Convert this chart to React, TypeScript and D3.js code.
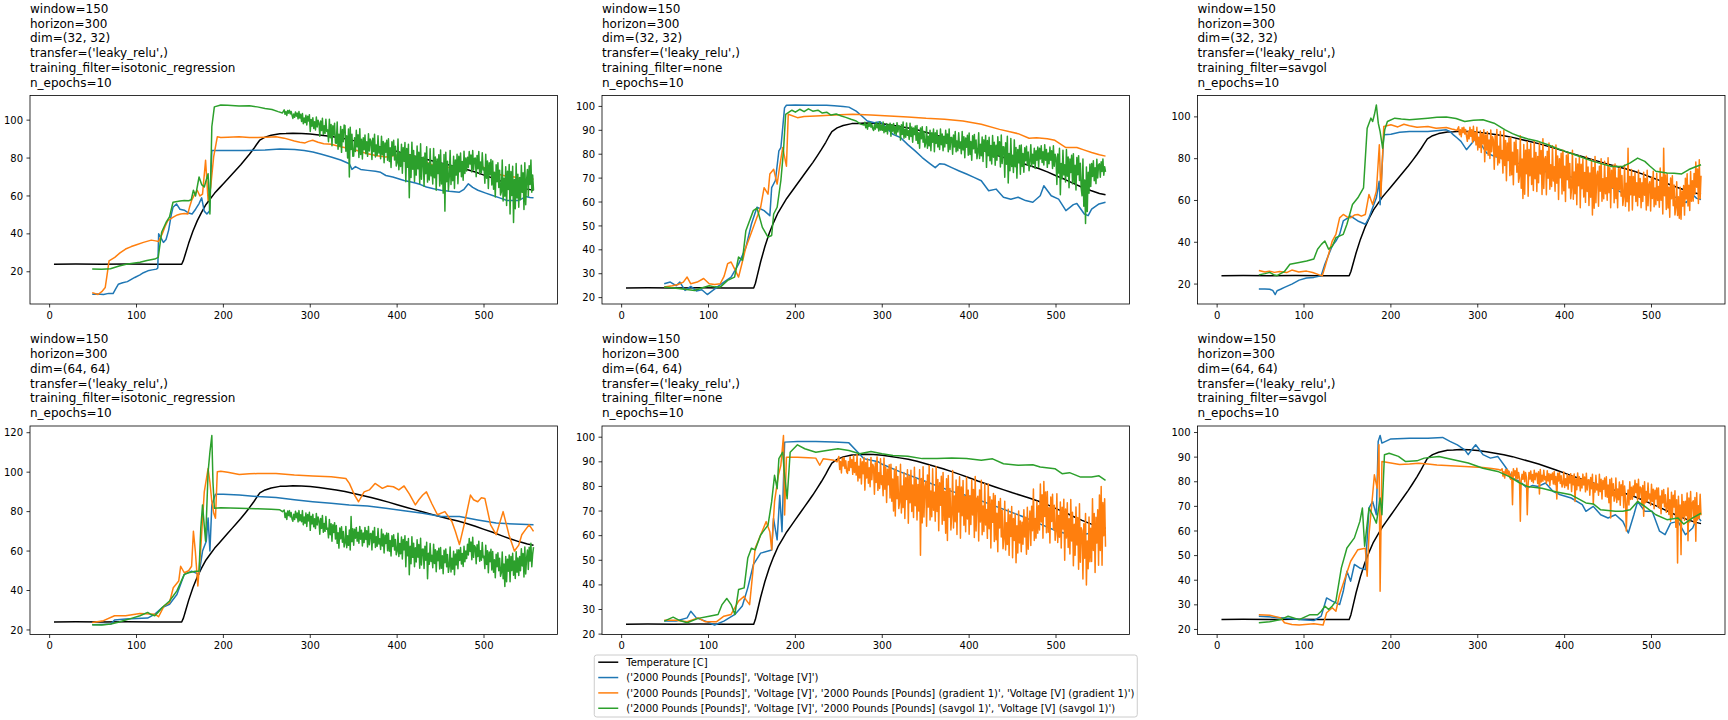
import React from "react";
import * as d3 from "d3";

type Pt = [number, number];

const W = 1728;
const H = 720;
const FONT = "'DejaVu Sans', sans-serif";

const COLOR_TEMP = "#000000";
const COLOR_BLUE = "#1f77b4";
const COLOR_ORANGE = "#ff7f0e";
const COLOR_GREEN = "#2ca02c";

// title parameters
const WINDOW = 150;
const HORIZON = 300;
const N_EPOCHS = 10;
const TRANSFER = "('leaky_relu',)";
const DIMS = ["(32, 32)", "(64, 64)"];
const FILTERS = ["isotonic_regression", "none", "savgol"];

const X_TICKS = [0, 100, 200, 300, 400, 500];
const Y_TICKS_P1 = [20, 40, 60, 80, 100];
const Y_TICKS_P2 = [20, 30, 40, 50, 60, 70, 80, 90, 100];
const Y_TICKS_P3 = [20, 40, 60, 80, 100];
const Y_TICKS_P4 = [20, 40, 60, 80, 100, 120];
const Y_TICKS_P5 = [20, 30, 40, 50, 60, 70, 80, 90, 100];
const Y_TICKS_P6 = [20, 30, 40, 50, 60, 70, 80, 90, 100];

const LEGEND_LABELS = [
  "Temperature [C]",
  "('2000 Pounds [Pounds]', 'Voltage [V]')",
  "('2000 Pounds [Pounds]', 'Voltage [V]', '2000 Pounds [Pounds] (gradient 1)', 'Voltage [V] (gradient 1)')",
  "('2000 Pounds [Pounds]', 'Voltage [V]', '2000 Pounds [Pounds] (savgol 1)', 'Voltage [V] (savgol 1)')",
];

// noisy stretches are sampled every NOISE_STEP x-units
const NOISE_STEP = 1;

const TEMPERATURE: Pt[] = [
  [5, 24], [30, 24.1], [60, 24], [90, 24.1], [120, 24], [152, 24], [154, 26], [156, 29], [160, 35],
  [165, 41.5], [170, 47], [175, 51.5], [180, 55.5], [185, 58.5], [190, 61.5], [195, 64], [200, 66.5],
  [205, 69], [210, 71.5], [215, 74], [220, 76.5], [225, 79.2], [230, 82], [235, 85], [238, 87],
  [242, 89.5], [248, 91], [255, 92], [265, 92.8], [272, 92.9], [280, 93.1], [290, 93], [300, 92.7],
  [310, 92.2], [320, 91.6], [330, 91], [340, 90.2], [350, 89.2], [360, 88.2], [370, 87.2], [380, 86],
  [390, 84.8], [400, 83.5], [410, 82.2], [420, 81], [430, 79.8], [440, 78.6], [450, 77.4], [460, 76.3],
  [470, 75.2], [480, 74], [490, 72.6], [500, 71], [510, 69.5], [520, 67.8], [530, 66.2], [540, 64.8],
  [550, 63.6], [557, 63],
];

// ---- panel 1: dim 32, isotonic_regression ----
const P1_BLUE: Pt[] = [
  [49, 8.1], [55, 8.3], [62, 8], [68, 8.6], [73, 8.5], [76, 11], [79, 13.4], [84, 14.2], [89.5, 14.8],
  [94, 16], [98, 17], [104, 18.4], [108, 19.5], [113, 20.5], [118, 21], [123, 21.4], [124.5, 22],
  [125.5, 40], [128, 38], [131, 35.5], [134, 37], [137, 42], [140, 50], [142, 54], [146, 55.8],
  [150, 53], [155, 52.5], [160, 51], [164, 50.5], [168, 53], [172, 56], [175, 59], [178, 52],
  [181, 50.5], [184, 52], [186.7, 84], [195, 84], [210, 84], [225, 84], [248, 84.2], [265, 84.8],
  [282, 84.5], [293, 84], [303, 83.2], [313, 82], [324, 80.6], [335, 79], [345, 77], [348, 74],
  [352, 75.5], [358, 74], [366, 73.5], [375, 73], [381, 72.5], [387, 70.8], [395, 70], [408, 68.2],
  [415, 67.5], [421, 66.8], [427, 66], [433.7, 64.7], [442, 63.8], [450.6, 63], [460, 62.5],
  [471.7, 62], [477, 63.5], [482, 66.4], [487, 64.5], [493, 63], [502, 61.5], [510, 60.2], [518, 59],
  [526.6, 57.6], [533, 57.6], [539, 57.6], [544, 58.6], [548, 59.7], [553, 59.2], [557, 59],
];
const P1_ORANGE: Pt[] = [
  [49, 9], [55.7, 8], [60, 9.5], [64, 11.7], [66, 18], [68.4, 25.8], [75, 27.6], [81, 30], [87.4, 32],
  [94, 33.3], [100, 34.3], [108, 35.5], [117, 36.7], [122, 36.3], [125.4, 36], [129.6, 40], [133, 44],
  [136, 47], [142.3, 48.8], [147, 50], [150.8, 50.5], [155, 50.7], [159, 50.5], [161, 54], [163.4, 57.6],
  [167, 61], [170, 62.9], [173, 60], [176, 61], [179.5, 78.8], [182.4, 57.6], [185.4, 64.7],
  [188.8, 80.6], [193, 91.2], [197, 90.8], [205, 91], [218, 91.2], [230, 90.9], [239.4, 90.8],
  [250, 91], [260.6, 91.2], [270, 90.5], [281.7, 89], [288, 88.3], [294, 88], [298, 88.8],
  [302.8, 89.4], [309, 88.3], [315.5, 87.6], [324, 87.3], [335, 86], [345, 85], [355, 83.8],
  [366, 82.3], [377, 81.2], [387, 80.6], [397, 81.3], [408, 82.3], [418, 81], [430, 78.5], [440, 76.5],
  [450.6, 75.3], [460, 75], [471.7, 75.3], [478, 78], [484, 80.6], [490, 78], [493, 77], [503, 74],
  [514, 71.7], [525, 70.5], [535, 70], [543, 68.8], [548, 68.2], [553, 68.8], [557, 69],
];
const P1_GREEN_PTS: Pt[] = [
  [49, 21.5], [60, 21.3], [70, 21.6], [80, 23], [88, 24], [96, 24.5], [104, 25], [112, 26], [121, 26.7],
  [125, 27.6], [129, 41], [134, 46], [138, 49], [142, 56.7], [150, 57.3], [155, 57.6], [160, 57.5],
  [163, 58], [165.5, 63], [168, 60], [172, 70], [175, 66], [178, 64.7], [180, 68], [182.4, 71.7],
  [184.5, 50.5], [186.7, 96.5], [189.6, 107], [197, 108], [205, 107.8], [218, 107.4], [230, 107.6],
  [239, 107], [248, 106.2], [256, 105.6], [263, 104.5], [268, 103.8],
];
const P1_GREEN_NOISE_X0 = 270;
const P1_GREEN_NOISE = [
  105.4, 103.1, 104.5, 102.5, 105.1, 103.7, 105.2, 103.3, 104.6, 102.7,
  100.9, 103.3, 101.5, 104.3, 102.1, 103.7, 100.7, 104.5, 101.1, 103.1,
  99.3, 103.5, 98.1, 101.1, 98.7, 102.6, 97.5, 102, 99.6, 102.9,
  94, 100.4, 96.8, 101.2, 95.6, 99.2, 94.8, 101.6, 96.4, 100,
  98.5, 91.5, 99.5, 94.5, 101, 92.5, 97, 93, 100.5, 94,
  94.9, 88.6, 100.5, 90.7, 97.7, 86.5, 97, 92.1, 98.4, 87.9,
  87.8, 99, 84.6, 92.6, 86.2, 96.6, 83, 95, 88.6, 97.4,
  97.1, 83.6, 91.7, 80, 95.3, 70, 96.2, 84.5, 92.6, 80.9,
  81.1, 90.7, 83.5, 94.7, 85.9, 92.3, 80.3, 95.5, 81.9, 89.9,
  79.5, 90.7, 84.4, 92.1, 82.3, 88.6, 80.9, 92.8, 83.7, 90,
  89, 79.2, 90.4, 83.4, 92.5, 80.6, 86.9, 81.3, 91.8, 82.7,
  85.9, 79.6, 91.5, 81.7, 88.7, 77.5, 88, 83.1, 89.4, 78.9,
  90.2, 78.2, 85.4, 75, 88.6, 81.4, 89.4, 79, 86.2, 75.8,
  77.4, 90, 73.8, 82.8, 75.6, 87.3, 72, 85.5, 78.3, 88.2,
  67.5, 85.1, 75.2, 87.3, 59, 81.8, 69.7, 88.4, 74.1, 84,
  67.7, 80.9, 71, 86.4, 74.3, 83.1, 66.6, 87.5, 68.8, 79.8,
  80.5, 65.1, 82.7, 71.7, 86, 67.3, 77.2, 68.4, 84.9, 70.6,
  76.2, 66.3, 85, 69.6, 80.6, 63, 79.5, 71.8, 81.7, 65.2,
  84.3, 66.3, 77.1, 61.5, 81.9, 52, 83.1, 67.5, 78.3, 62.7,
  70, 84, 66, 76, 68, 81, 64, 79, 71, 82,
  66.5, 80.9, 72.8, 82.7, 70.1, 78.2, 68.3, 83.6, 71.9, 80,
  73.2, 80.4, 75, 83.4, 76.8, 81.6, 72.6, 84, 73.8, 79.8,
  80, 70.2, 81.4, 74.4, 83.5, 71.6, 77.9, 72.3, 82.8, 73.7,
  74.8, 66.7, 82, 69.4, 78.4, 64, 77.5, 71.2, 79.3, 65.8,
  78.5, 63.5, 72.5, 59.5, 76.5, 67.5, 77.5, 64.5, 73.5, 60.5,
  62.2, 79, 57.4, 69.4, 59.8, 75.4, 55, 73, 63.4, 76.6,
  50.5, 72.9, 60.3, 75.7, 46, 68.7, 53.3, 77.1, 58.9, 71.5,
  54.1, 69.7, 58, 76.2, 61.9, 72.3, 52.8, 77.5, 55.4, 68.4,
  74, 60, 76, 66, 79, 62, 71, 63,
];

// ---- panel 2: dim 32, none ----
const P2_BLUE: Pt[] = [
  [49, 25.8], [56, 26.5], [62.7, 25], [67, 26.5], [73, 23], [79.6, 24.7], [86, 22.8], [92.3, 23.3],
  [98.6, 21.3], [105, 23], [111, 24.7], [117.7, 26.5], [126, 28.6], [134.6, 34], [143, 41],
  [149.4, 50.8], [155.8, 57.8], [164, 56.4], [170.6, 54.3], [172.7, 66], [177, 69], [181, 81.4],
  [183.3, 82.8], [185.4, 91], [187.5, 99.4], [189.7, 100.5], [200, 100.6], [215, 100.5], [236, 100.5],
  [244.7, 100.3], [255, 100], [261.6, 99.7], [270, 98], [276.5, 96], [282.8, 93.9], [291, 93.2],
  [297.6, 93.6], [304, 91.4], [312.4, 88.3], [321, 87], [329.4, 84], [337.8, 81.4], [346, 78.6],
  [354.8, 76.1], [361, 74.4], [366, 76], [371.7, 75.8], [380, 74.4], [388.6, 73], [397, 71.7],
  [405.6, 70.3], [414, 68.9], [422.5, 64.7], [431, 65.4], [439.5, 62], [448, 61.2], [456.4, 62],
  [465, 60.6], [473.3, 59.9], [481.8, 62.6], [486, 66.8], [494.5, 62.6], [503, 61.2], [511.4, 56.4],
  [520, 58.9], [524, 59.4], [532.6, 55], [537, 54.3], [541, 57], [549.5, 59.2], [557, 59.9],
];
const P2_ORANGE: Pt[] = [
  [49, 24.4], [58.4, 25], [65, 25.5], [71, 26.5], [75.4, 28.6], [79.6, 25.8], [87, 26.5], [94.4, 28],
  [100.8, 25.8], [107, 25.5], [113.5, 25.8], [118, 29], [122, 34.2], [126, 34.9], [130, 32],
  [134.6, 28.6], [139, 35], [143, 41], [151.6, 49.4], [160, 57.8], [164, 66], [168.5, 63.3],
  [170.6, 71.7], [175, 73.7], [179, 67.5], [182, 75], [185.4, 82.8], [189.7, 75], [191.8, 96.7],
  [202.4, 95.3], [210, 95.8], [223.5, 96], [244.7, 96.4], [265.9, 96.7], [287, 96.4], [308.2, 96],
  [329.4, 95.6], [350.5, 95], [371.7, 94.6], [392.9, 93.9], [414, 92.5], [435, 90.4], [456.4, 88.6],
  [469, 86.7], [477.6, 86.9], [490, 86.5], [498.7, 85.8], [511.4, 82.8], [524, 82.8], [532, 81.8],
  [541, 80.7], [550, 79.8], [557, 79.2],
];
const P2_GREEN_PTS: Pt[] = [
  [49, 24.4], [60, 24], [70, 23.6], [84, 23], [92, 24], [100.8, 25], [107, 24.5], [113.5, 24.4],
  [122, 27.2], [130, 28.6], [134.6, 37], [139, 35.6], [143, 48], [151.6, 56.4], [155.8, 57.5],
  [162, 49.4], [168.5, 45.3], [172.7, 46], [175, 55], [179, 57.8], [183.3, 69], [186.3, 81.4],
  [188.8, 96.7], [191.8, 97.4], [196, 98.4], [200, 97.6], [205, 98.8], [210, 97.8], [215, 99],
  [220, 98], [226, 98.4], [231, 97.2], [236, 97.6], [241, 96.4], [247, 96.8], [253, 96], [258, 95.4],
  [264, 94.6], [270, 93.9], [275, 92.6], [279, 92.2],
];
const P2_GREEN_NOISE_X0 = 280;
const P2_GREEN_NOISE = [
  93.4, 91.1, 92.5, 90.5, 93.1, 91.7, 93.2, 91.3, 92.6, 90.7,
  89.9, 92.3, 90.5, 93.3, 91.1, 92.7, 89.7, 93.5, 90.1, 92.1,
  90, 93.5, 89, 91.5, 89.5, 92.8, 88.5, 92.3, 90.3, 93,
  87.5, 92.3, 89.6, 92.9, 88.7, 91.4, 88.1, 93.2, 89.3, 92,
  91.5, 85.9, 92.3, 88.3, 93.5, 86.7, 90.3, 87.1, 93.1, 87.9,
  89.8, 86.2, 93, 87.4, 91.4, 85, 91, 88.2, 91.8, 85.8,
  92, 84.5, 89, 82.5, 91, 86.5, 91.5, 85, 89.5, 83,
  84.5, 91.5, 82.5, 87.5, 83.5, 90, 81.5, 89, 85, 90.5,
  81, 89, 84.5, 90, 83, 87.5, 82, 90.5, 84, 88.5,
  81.5, 87.5, 83, 90, 84.5, 88.5, 81, 90.5, 82, 87,
  87, 80, 88, 83, 89.5, 81, 85.5, 81.5, 89, 82.5,
  85.1, 80.2, 89.5, 81.8, 87.3, 78.5, 86.8, 82.9, 87.9, 79.6,
  88.9, 79.9, 85.3, 77.5, 87.7, 82.3, 88.3, 80.5, 85.9, 78.1,
  80.6, 89, 78.2, 84.2, 79.4, 87.2, 77, 86, 81.2, 87.8,
  74.5, 85.7, 79.4, 87.1, 77.3, 83.6, 75.9, 87.8, 78.7, 85,
  75.4, 83.8, 77.5, 87.3, 79.6, 85.2, 74.7, 88, 76.1, 83.1,
  83, 70.4, 84.8, 75.8, 87.5, 68, 80.3, 73.1, 86.6, 74.9,
  79.6, 72.4, 86, 74.8, 82.8, 70, 82, 76.4, 83.6, 71.6,
  83.9, 74.9, 80.3, 72.5, 82.7, 77.3, 83.3, 75.5, 80.9, 73.1,
  77, 84, 75, 80, 76, 82.5, 74, 81.5, 77.5, 83,
  74.5, 82.5, 78, 83.5, 76.5, 81, 75.5, 84, 77.5, 82,
  74.5, 80.5, 76, 83, 77.5, 81.5, 74, 83.5, 75, 80,
  78.5, 67.3, 80.1, 72.1, 82.5, 63, 76.1, 69.7, 81.7, 71.3,
  75.6, 68.4, 82, 70.8, 78.8, 66, 78, 72.4, 79.6, 67.6,
  80.2, 68.2, 75.4, 65, 78.6, 71.4, 79.4, 69, 76.2, 65.8,
  62.6, 78, 58.2, 69.2, 51, 74.7, 56, 72.5, 63.7, 75.8,
  66.5, 76.1, 70.7, 77.3, 68.9, 74.3, 67.7, 77.9, 70.1, 75.5,
  76, 70.4, 76.8, 72.8, 78, 71.2, 74.8, 72.6,
];

// ---- panel 3: dim 32, savgol ----
const P3_BLUE: Pt[] = [
  [48, 17.6], [55, 17.6], [60.5, 17.5], [64, 17], [66.9, 15], [69, 16.8], [73, 17.5], [77.5, 18.4],
  [86, 20], [94.4, 21.9], [102.9, 22.9], [111.3, 23.2], [119.8, 24], [124, 29.5], [132.5, 38.3],
  [136.7, 40.6], [141, 43.8], [145.2, 50.2], [153.7, 52.5], [162, 50.2], [170.6, 48.6], [174.8, 51.7],
  [179, 56.5], [183.3, 61.3], [186.5, 69.2], [187.6, 58], [191.8, 91.4], [200, 91.7], [210, 92.6],
  [221.4, 93], [242.6, 93], [255, 93.5], [263.8, 93.8], [268, 93], [272, 91.4], [276, 90],
  [280.7, 88.3], [287, 84.3], [293.4, 87.5], [297.6, 89.8], [304, 86.7], [310.3, 82.7], [320, 81],
  [330, 80], [345, 78], [360, 76], [380, 73.5], [400, 72], [415, 70.5], [430, 69], [450, 67], [470, 63],
  [480, 66], [490, 64.5], [500, 64], [510, 63.5], [520, 63], [530, 61], [540, 59], [547, 62.9],
  [552, 61], [557, 60.5],
];
const P3_ORANGE_PTS: Pt[] = [
  [48, 26.5], [55, 25.8], [60, 26.2], [66, 25.6], [72, 26], [80, 25.5], [86, 26.7], [94, 25.8],
  [102.9, 26.2], [110, 25.5], [117.7, 24.4], [121, 24], [124, 28], [128.3, 34.3], [132.5, 40.6],
  [136.7, 43.8], [141, 51.7], [145.2, 53.3], [150, 52], [153.7, 51.7], [158, 53], [162, 53.3],
  [166, 52.5], [170.6, 53.3], [174.8, 62.9], [179, 58.1], [183.3, 64.4], [186.7, 86.7], [188.5, 62],
  [191.8, 95.4], [200, 96.2], [208, 95.2], [215, 96.5], [221.4, 95.8], [230, 95], [242.6, 95.4],
  [252, 94.6], [263.8, 94.9], [270, 94.2], [274, 93.8], [276, 93.5],
];
const P3_ORANGE_NOISE_X0 = 278;
const P3_ORANGE_NOISE = [
  95.3, 91.5, 93.8, 90.5, 94.8, 92.5, 95, 91.8, 94, 90.8,
  88.3, 93.1, 89.5, 95.1, 90.7, 93.9, 87.9, 95.5, 88.7, 92.7,
  86.6, 95, 84.2, 90.2, 85.4, 93.2, 83, 92, 87.2, 93.8,
  78.5, 91.3, 84.1, 92.9, 81.7, 88.9, 80.1, 93.7, 83.3, 90.5,
  89, 75, 91, 81, 94, 77, 86, 78, 93, 80,
  83.9, 73.1, 93.5, 76.7, 88.7, 69.5, 87.5, 79.1, 89.9, 71.9,
  90.3, 72.3, 83.1, 67.5, 87.9, 77.1, 89.1, 73.5, 84.3, 68.7,
  71.4, 91, 65.8, 79.8, 61, 86.8, 63, 84, 72.8, 88.2,
  62, 84.4, 71.8, 87.2, 67.6, 80.2, 64.8, 88.6, 70.4, 83,
  64.3, 81.1, 68.5, 88.1, 72.7, 83.9, 62.9, 89.5, 65.7, 79.7,
  81, 62.8, 83.6, 70.6, 87.5, 65.4, 77.1, 66.7, 86.2, 69.3,
  76.1, 64.4, 86.5, 68.3, 81.3, 60.5, 80, 70.9, 82.6, 63.1,
  84.2, 64.7, 76.4, 59.5, 81.6, 69.9, 82.9, 66, 77.7, 60.8,
  65.8, 84, 60.6, 73.6, 63.2, 80.1, 58, 77.5, 67.1, 81.4,
  56.5, 77.3, 65.6, 79.9, 61.7, 73.4, 59.1, 81.2, 64.3, 76,
  57.6, 73.2, 61.5, 79.7, 53, 75.8, 56.3, 81, 58.9, 71.9,
  74, 57.2, 76.4, 64.4, 80, 59.6, 70.4, 60.8, 78.8, 63.2,
  70.9, 60.1, 80.5, 63.7, 75.7, 56.5, 74.5, 66.1, 76.9, 58.9,
  77.4, 60.9, 70.8, 56.5, 75.2, 65.3, 76.3, 62, 71.9, 57.6,
  61.6, 77, 57.2, 68.2, 59.4, 85, 55, 71.5, 62.7, 74.8,
  55.5, 71.5, 62.5, 73.5, 59.5, 68.5, 57.5, 74.5, 61.5, 70.5,
  56.5, 68.5, 59.5, 73.5, 62.5, 70.5, 55.5, 74.5, 57.5, 67.5,
  69, 55, 71, 61, 74, 57, 66, 58, 73, 60,
  66.7, 56.8, 75.5, 60.1, 71.1, 53.5, 85, 62.3, 72.2, 55.7,
  72.9, 56.4, 66.3, 52, 70.7, 60.8, 71.8, 57.5, 67.4, 53.1,
  56.4, 69, 52.8, 61.8, 51.5, 66.3, 51, 64.5, 57.3, 67.2,
  53, 70.6, 60.7, 72.8, 57.4, 67.3, 55.2, 73.9, 59.6, 69.5,
  59.7, 72.9, 63, 78.4, 66.3, 75.1, 58.6, 79.5, 60.8, 71.8,
];
const P3_GREEN: Pt[] = [
  [48, 24.4], [55, 25], [60.5, 25.6], [65, 24.5], [69, 24], [73, 25], [77.5, 26], [83.8, 29.5],
  [94.4, 30.3], [103, 31], [111.3, 32], [115.6, 36.7], [120, 39], [124, 40.6], [128.3, 36.7],
  [132.5, 38], [136.7, 42.2], [145.2, 43.8], [149.4, 48.6], [155.8, 58.1], [162, 61.3], [168.5, 66],
  [172.7, 94.6], [177, 99.4], [179, 97.8], [181, 101], [183.3, 105.7], [185.5, 97], [187.6, 93],
  [190.5, 85], [193, 94], [196, 97.8], [204.5, 99.4], [212, 99], [221.4, 98.6], [232, 99],
  [242.6, 99.4], [253, 99.8], [263.8, 100], [275, 99.2], [285, 97.8], [295, 98.4], [306, 98.6],
  [318.8, 97], [331.5, 93.8], [340, 92], [348.4, 90.6], [358, 89.4], [369.6, 88.3], [380, 86.8],
  [390.8, 85], [400, 83.6], [412, 81.9], [422, 80.3], [433, 78.7], [444, 77.4], [454.3, 76.3],
  [467, 76.3], [475.5, 78], [484, 80.3], [492.3, 78.7], [498, 76.5], [505, 74], [517.8, 73.2],
  [526, 73], [534.7, 72.7], [543, 74.8], [550, 76], [557, 77.1],
];

// ---- panel 4: dim 64, isotonic_regression ----
const P4_BLUE: Pt[] = [
  [49, 22.6], [60, 22.8], [70.5, 23], [74.7, 25], [87.4, 25.5], [100, 25.8], [112.8, 26], [121.2, 28],
  [129.6, 31.4], [138, 33], [146.5, 38], [155, 48.2], [163.4, 49.8], [171.9, 48.2], [176, 60],
  [180.3, 65], [182.4, 76.7], [184.5, 60], [186.7, 83.4], [190.9, 88.8], [200, 88.8], [218.3, 88.4],
  [239.4, 87.6], [260.6, 87.1], [281.7, 86], [302.8, 85], [324, 84.2], [345, 83.4], [366, 82.9],
  [387, 81.7], [408, 80.4], [429.5, 79.2], [450.6, 77.5], [471.7, 77.5], [492.8, 75.8], [514, 74.2],
  [535, 73.7], [557, 73.3],
];
const P4_ORANGE: Pt[] = [
  [49, 23.8], [62, 24.7], [74.7, 27.2], [87.4, 27.2], [104, 28.4], [121, 28], [125.4, 26.7],
  [131.8, 32.2], [138, 33.9], [142.3, 41.4], [148.6, 44.8], [150.8, 52.3], [155, 49], [160, 50],
  [163.4, 52.3], [165.5, 70], [167.7, 60], [170.6, 42.3], [174, 61.6], [178, 90], [182.4, 101.8],
  [184.5, 95], [186.7, 85], [189, 79], [190.9, 76.7], [193, 100.2], [197, 100.5], [205, 100],
  [218.3, 98.8], [230, 99.2], [239.4, 99.3], [260.6, 99.3], [281.7, 98.5], [302.8, 98], [324, 97.7],
  [341, 96.8], [345, 94.3], [351, 88.4], [355.6, 85], [362, 90], [368, 91], [374.6, 94.3], [383, 91.8],
  [389, 93], [395.7, 92.6], [402, 91], [408, 93], [414, 89], [421, 83.4], [425, 86], [429.5, 88.4],
  [433.7, 90], [440, 84], [446.4, 78.4], [455, 80], [463, 75], [467, 70], [471.7, 63.3], [478, 75],
  [484.4, 88.4], [488, 86], [492.8, 85], [497, 87], [501, 86.7], [507.6, 73.3], [514, 68.3], [522, 80],
  [528.7, 68.3], [535, 60], [540, 63], [543.5, 68.3], [548, 71], [552, 73.3], [557, 70],
];
const P4_GREEN_PTS: Pt[] = [
  [49, 22.6], [60, 22.5], [70.5, 23], [80, 24], [87.4, 25], [95, 26], [104, 27.2], [112.8, 28.9],
  [116, 28], [121, 27.2], [125, 29], [129.6, 31.4], [138, 34.7], [146.5, 39.8], [155, 48.2], [160, 49],
  [167.7, 49.8], [172, 49.8], [174, 71.6], [176, 83.4], [179.5, 65], [182.4, 100], [184.5, 110.2],
  [186.7, 118.6], [188, 95], [189.6, 81.7], [197, 82], [218.3, 81.7], [239.4, 81.4], [255, 81.2],
  [265, 80.9], [268, 80],
];
const P4_GREEN_NOISE_X0 = 270;
const P4_GREEN_NOISE = [
  80.8, 77, 79.3, 76, 80.3, 78, 80.5, 77.3, 79.5, 76.3,
  75.1, 78.7, 76, 80.2, 76.9, 79.3, 74.8, 80.5, 75.4, 78.4,
  74.9, 80.5, 73.3, 77.3, 74.1, 79.3, 72.5, 78.5, 75.3, 79.7,
  70.5, 77.7, 73.7, 78.6, 72.3, 76.4, 71.4, 79.1, 73.2, 77.3,
  75.5, 68.5, 76.5, 71.5, 78, 69.5, 74, 70, 77.5, 71,
  71.6, 66.7, 76, 68.3, 73.8, 65, 73.3, 69.4, 74.4, 66.1,
  72.9, 63.9, 69.3, 61.5, 71.7, 66.3, 72.3, 64.5, 69.9, 62.1,
  64.1, 72.5, 61.7, 67.7, 62.9, 70.7, 60.5, 77.5, 64.7, 71.3,
  63, 71, 66.5, 72, 65, 69.5, 64, 72.5, 66, 70.5,
  62.6, 69.2, 64.3, 72, 65.9, 70.3, 62.1, 72.5, 63.2, 68.7,
  69, 60.6, 70.2, 64.2, 72, 61.8, 67.2, 62.4, 71.4, 63.6,
  66.2, 60.8, 71, 62.6, 68.6, 59, 68, 63.8, 69.2, 60.2,
  68.9, 59.9, 65.3, 57.5, 67.7, 62.3, 68.3, 60.5, 65.9, 58.1,
  59.9, 69, 57.3, 63.8, 58.6, 67.1, 56, 65.8, 60.6, 67.7,
  52, 64.8, 57.6, 66.4, 48, 62.4, 53.6, 67.2, 56.8, 64,
  52.1, 61.7, 54.5, 65.7, 56.9, 63.3, 51.3, 66.5, 52.9, 60.9,
  61, 51.2, 62.4, 55.4, 64.5, 46, 58.9, 53.3, 63.8, 54.7,
  57.9, 51.6, 63.5, 53.7, 60.7, 49.5, 60, 55.1, 61.4, 50.9,
  61.8, 51.3, 57.6, 48.5, 60.4, 54.1, 61.1, 52, 58.3, 49.2,
  52.2, 62, 49.4, 56.4, 50.8, 59.9, 48, 58.5, 52.9, 60.6,
  51, 60.6, 55.2, 61.8, 53.4, 58.8, 52.2, 62.4, 54.6, 60,
  56.2, 63.4, 58, 66.4, 59.8, 64.6, 55.6, 67, 56.8, 62.8,
  62, 53.6, 63.2, 57.2, 65, 54.8, 60.2, 55.4, 64.4, 56.6,
  57.4, 51.1, 63, 53.2, 60.2, 49, 59.5, 54.6, 60.9, 50.4,
  59.8, 49.3, 55.6, 46.5, 58.4, 52.1, 59.1, 50, 56.3, 47.2,
  49, 59.5, 46, 53.5, 42, 57.3, 44.5, 55.8, 49.8, 58,
  44.5, 57.3, 50.1, 58.9, 47.7, 54.9, 46.1, 59.7, 49.3, 56.5,
  47.6, 57.2, 50, 61.2, 52.4, 58.8, 46.8, 62, 48.4, 56.4,
  60.5, 50.7, 61.9, 54.9, 64, 52.1, 58.4, 62,
];

// ---- panel 5: dim 64, none ----
const P5_BLUE: Pt[] = [
  [49, 25.3], [62.7, 25.3], [75.4, 26.6], [79.6, 29.3], [86, 26.6], [96.5, 25.3], [107, 23.7],
  [117.7, 25.3], [130.4, 28], [138.9, 31.4], [145.2, 38.8], [151.6, 48.2], [160, 52.9], [172.7, 54.2],
  [174.8, 67], [179, 58.3], [182, 76.4], [184.6, 61.6], [187.6, 98], [202.4, 98.3], [223.5, 98.3],
  [244.7, 98], [261.6, 97.7], [270, 94.6], [278.6, 91.3], [287, 90.6], [295.5, 90], [300, 89],
  [320, 86], [350, 82], [380, 78], [400, 76], [430, 72], [460, 68], [480, 65], [500, 62], [520, 60],
  [540, 61], [557, 63],
];
const P5_ORANGE_PTS: Pt[] = [
  [49, 25.6], [62.7, 25.6], [75.4, 25], [88, 26.6], [96.5, 25], [109, 25], [117.7, 27.3], [126, 28],
  [134.6, 33.4], [141, 35.4], [143, 34], [147.3, 32], [150.7, 44.1], [153.7, 54.9], [160, 60.3],
  [166.4, 65.7], [170.6, 61.6], [172.7, 54.2], [176, 73.8], [180.4, 84.5], [183.3, 88.6],
  [186.3, 100.7], [187.6, 68.4], [189.7, 91.9], [202.4, 91.9], [215, 91.7], [223.5, 91.5], [228, 88.6],
  [232, 91.2], [244.7, 90.6], [248, 90],
];
const P5_ORANGE_NOISE_X0 = 250;
const P5_ORANGE_NOISE = [
  92.2, 86.9, 90.1, 85.5, 91.5, 88.3, 91.8, 87.3, 90.4, 85.9,
  85.3, 90.1, 86.5, 92.1, 87.7, 90.9, 84.9, 92.5, 85.7, 89.7,
  84.6, 93, 82.2, 88.2, 83.4, 91.2, 81, 90, 85.2, 91.8,
  78.5, 89.7, 83.4, 91.1, 81.3, 87.6, 79.9, 91.8, 82.7, 89,
  88, 76.8, 89.6, 81.6, 92, 78.4, 85.6, 79.2, 91.2, 80.8,
  84.3, 76.2, 91.5, 78.9, 87.9, 73.5, 87, 80.7, 88.8, 75.3,
  89, 74, 83, 70, 87, 68, 88, 75, 84, 71,
  73.6, 89, 69.2, 80.2, 71.4, 85.7, 67, 83.5, 74.7, 86.8,
  65, 84.2, 73.4, 86.6, 69.8, 80.6, 67.4, 87.8, 72.2, 83,
  66.4, 80.8, 70, 86.8, 52, 83.2, 65.2, 88, 67.6, 79.6,
  82, 63.8, 84.6, 71.6, 88.5, 66.4, 78.1, 67.7, 87.2, 70.3,
  77.6, 65.9, 88, 69.8, 82.8, 62, 81.5, 72.4, 84.1, 64.6,
  85.7, 66.2, 77.9, 61, 83.1, 58, 84.4, 67.5, 79.2, 62.3,
  68.3, 86.5, 63.1, 76.1, 65.7, 82.6, 60.5, 80, 69.6, 83.9,
  59, 79.8, 68.1, 82.4, 64.2, 75.9, 61.6, 83.7, 66.8, 78.5,
  60.6, 76.2, 64.5, 82.7, 68.4, 78.8, 59.3, 84, 61.9, 74.9,
  76, 57.8, 78.6, 65.6, 82.5, 60.4, 72.1, 61.7, 81.2, 64.3,
  70.6, 58.9, 81, 62.8, 75.8, 55, 74.5, 65.4, 77.1, 57.6,
  76.3, 58.3, 69.1, 53.5, 73.9, 63.1, 75.1, 59.5, 70.3, 54.7,
  58.6, 74, 54.2, 65.2, 56.4, 70.7, 52, 68.5, 59.7, 71.8,
  51, 67, 58, 69, 49, 64, 53, 70, 57, 66,
  53.5, 65.5, 56.5, 70.5, 59.5, 67.5, 52.5, 71.5, 54.5, 64.5,
  70, 56, 72, 62, 79, 58, 67, 59, 74, 61,
  72.2, 62.3, 81, 65.6, 76.6, 59, 82, 67.8, 77.7, 61.2,
  77.9, 61.4, 71.3, 57, 75.7, 65.8, 76.8, 62.5, 72.4, 58.1,
  61.6, 77, 57.2, 68.2, 59.4, 73.7, 55, 71.5, 62.7, 74.8,
  50, 70.8, 59.1, 73.4, 55.2, 66.9, 52.6, 74.7, 57.8, 69.5,
  47.8, 64.6, 52, 71.6, 56.2, 67.4, 46.4, 73, 49.2, 63.2,
  62, 42.4, 64.8, 50.8, 69, 40, 57.8, 46.6, 67.6, 49.4,
  63, 49.5, 75, 54, 69, 45, 67.5, 57, 70.5, 48,
  76.5, 54, 80, 48, 73.5, 60, 75, 55.5,
];
const P5_GREEN: Pt[] = [
  [49, 25.3], [59.3, 26.9], [67, 25.5], [75.4, 24.6], [88, 26.4], [100.8, 27.3], [111, 28], [115.6, 32],
  [121, 34.5], [126, 32], [130.4, 28], [134.6, 38.1], [141, 38.8], [145.2, 50.9], [149.4, 54.9],
  [153.7, 54.2], [160, 60.3], [168.5, 64.3], [172.7, 73.8], [176, 84.5], [179, 79.1], [181, 91.3],
  [185.4, 93.9], [187.6, 84.5], [190.5, 75], [194, 93.9], [202.4, 96.9], [210.8, 95.3], [223.5, 93.9],
  [236, 94.6], [249, 95.3], [261.6, 94.6], [274, 93.3], [287, 94.2], [299.7, 93.3], [312.4, 92.6],
  [329.4, 92.3], [346, 91.3], [363, 91.3], [380, 91.5], [397, 91.3], [414, 90.6], [427, 91.2],
  [439.5, 89.2], [456.4, 88.6], [473.3, 88.8], [481.8, 87.9], [498.7, 87.2], [507, 85.2], [515.6, 85.6],
  [528.4, 83.8], [541, 83.8], [549.5, 84.3], [557, 82.5],
];

// ---- panel 6: dim 64, savgol ----
const P6_BLUE: Pt[] = [
  [48, 25.4], [64.8, 25], [77.5, 24.7], [94.4, 24], [111.3, 23.6], [119.8, 25.4], [126, 32.8],
  [132.5, 31.5], [141, 30.1], [145.2, 35.5], [149.4, 43.6], [153.7, 39.6], [158, 46.4], [164, 45],
  [170.6, 44.3], [174.8, 69.3], [179, 72], [183.3, 66.6], [185.4, 96.4], [187.6, 98.8], [189.7, 95.7],
  [200, 97.4], [221.4, 97.7], [242.6, 97.7], [259.5, 98], [268, 96.4], [276.5, 95], [285, 93], [289, 91],
  [293, 93], [297.6, 95], [302, 93], [306, 91], [314.6, 89.6], [323, 90.3], [331.5, 86.2], [340, 81.5],
  [348.4, 80.1], [357, 77.4], [363, 78.5], [369.6, 78.1], [378, 79.5], [386.5, 76.1], [395, 74.7],
  [407.5, 73.4], [420.3, 70.7], [424.5, 68], [433, 70], [441.5, 66.6], [450, 65.3], [458.5, 66.6],
  [467, 63.9], [473.3, 59.2], [479.7, 66.6], [484, 72], [492.3, 68], [500.8, 68], [509.3, 59.9],
  [515.6, 58.5], [522, 63.2], [530.5, 63.9], [539, 58.5], [547.4, 61.2], [553, 66], [557, 64],
];
const P6_ORANGE_PTS: Pt[] = [
  [48, 26], [60.5, 25.8], [73.2, 24.7], [77.5, 22.7], [86, 22], [94.4, 21.8], [111.3, 22.3], [122, 21.8],
  [126, 26.8], [132.5, 28.8], [136.7, 27.4], [141, 34.2], [147.3, 40.9], [153.7, 47.7], [162, 52.4],
  [170.6, 53], [172.7, 41.6], [174.8, 58.5], [179, 74.7], [181, 82.8], [184.2, 77.4], [186.3, 95],
  [187.6, 35.5], [189.7, 88.2], [200, 87.6], [210, 87], [221.4, 87.2], [232, 87.5], [242.6, 87.2],
  [253, 86.8], [263.8, 86.6], [274, 86.4], [285, 86.2], [295, 86], [306, 85.8], [316, 85.4], [324, 85],
  [326, 84.6],
];
const P6_ORANGE_NOISE_X0 = 328;
const P6_ORANGE_NOISE = [
  85.3, 82.3, 84.1, 81.5, 84.9, 83.1, 85.1, 82.5, 84.3, 81.7,
  81, 84, 70.7, 85.3, 82.5, 84.5, 80.8, 85.5, 81.3, 83.8,
  81.5, 64, 80.5, 83, 81, 84.3, 80, 83.8, 81.8, 66.6,
  79, 83.8, 81.1, 84.4, 80.2, 82.9, 79.6, 84.7, 80.8, 83.5,
  83.5, 79.3, 84.1, 75, 85, 79.9, 82.6, 80.2, 84.7, 80.8,
  82.1, 79.4, 84.5, 80.3, 83.3, 78.5, 83, 80.9, 83.6, 79.1,
  84.2, 78.9, 82.1, 73, 83.5, 80.3, 83.8, 79.3, 82.4, 77.9,
  79.1, 84, 77.7, 81.2, 78.4, 83, 77, 82.3, 79.5, 83.3,
  76, 82.4, 78.8, 83.2, 72, 81.2, 76.8, 83.6, 78.4, 82,
  76.3, 81.1, 77.5, 83.1, 78.7, 81.9, 75.9, 83.5, 76.7, 80.7,
  80.8, 74.5, 81.7, 77.2, 83, 71, 79.4, 75.8, 82.6, 76.7,
  79, 74.5, 83, 76, 81, 73, 80.5, 77, 81.5, 74,
  82, 73.7, 78.7, 71.5, 80.9, 65.3, 81.4, 74.3, 79.2, 72.1,
  73.8, 81.5, 71.6, 77.1, 72.7, 79.9, 70.5, 78.8, 74.4, 80.4,
  69.5, 78.3, 73.4, 60, 71.7, 76.7, 70.6, 80, 72.8, 77.8,
  72.9, 78.3, 74.3, 80.6, 75.6, 79.2, 72.5, 81, 73.4, 77.9,
  77.5, 70.5, 78.5, 66, 80, 71.5, 76, 72, 79.5, 73,
  75, 70.5, 79, 72, 77, 69, 76.5, 73, 77.5, 70,
  77.5, 69.2, 74.2, 67, 76.4, 71.4, 76.9, 69.8, 74.7, 67.6,
  69.1, 77.5, 66.7, 72.7, 64, 75.7, 65.5, 74.5, 69.7, 76.3,
  61.5, 72.7, 47, 74.1, 64.3, 70.6, 50.4, 74.8, 65.7, 72,
  64.3, 72.1, 66.3, 75.4, 56, 73.4, 63.7, 76, 65, 71.5,
  72.3, 63.2, 73.6, 55.8, 75.5, 64.5, 70.3, 65.1, 74.9, 66.4,
];
const P6_GREEN: Pt[] = [
  [48, 22.7], [60.5, 23.1], [73.2, 24], [81.7, 25.4], [94.4, 24], [107, 26], [115.6, 26], [119.8, 27.4],
  [124, 29.5], [128.3, 28.1], [132.5, 29.5], [136.7, 31.5], [143, 45], [149.4, 53.1], [158, 57.2],
  [164.3, 63.9], [167.2, 69.3], [169.8, 53.8], [174.8, 69.3], [179, 66.6], [183.3, 63.2], [187.6, 73.4],
  [189.7, 66.6], [192.6, 91], [198, 91.6], [208.7, 90.3], [217, 88.2], [230, 88.5], [238.4, 89.6],
  [255.3, 90.3], [272, 88.9], [289, 87.6], [306, 85.5], [323, 84.2], [335.7, 82.2], [348.4, 79.5],
  [357, 78.1], [373.8, 77.4], [390.8, 75.8], [407.5, 74.7], [424.5, 71.4], [433, 71], [441.5, 68.6],
  [458.5, 68], [467, 68], [475.5, 68.6], [484, 72], [492.3, 70], [505, 66.6], [517.8, 64.6],
  [530.5, 65.3], [537, 62.8], [547.4, 65.3], [557, 67.2],
];

// joins the smooth part of a series with its densely sampled noisy tail
function withNoise(pts: Pt[], x0: number, values: number[]): Pt[] {
  return pts.concat(values.map((v, i) => [x0 + i * NOISE_STEP, v] as Pt));
}

interface PanelData {
  dim: string;
  filter: string;
  yTicks: number[];
  blue: Pt[];
  orange: Pt[];
  green: Pt[];
}

const PANELS: PanelData[] = [
  { dim: DIMS[0], filter: FILTERS[0], yTicks: Y_TICKS_P1, blue: P1_BLUE, orange: P1_ORANGE,
    green: withNoise(P1_GREEN_PTS, P1_GREEN_NOISE_X0, P1_GREEN_NOISE) },
  { dim: DIMS[0], filter: FILTERS[1], yTicks: Y_TICKS_P2, blue: P2_BLUE, orange: P2_ORANGE,
    green: withNoise(P2_GREEN_PTS, P2_GREEN_NOISE_X0, P2_GREEN_NOISE) },
  { dim: DIMS[0], filter: FILTERS[2], yTicks: Y_TICKS_P3, blue: P3_BLUE,
    orange: withNoise(P3_ORANGE_PTS, P3_ORANGE_NOISE_X0, P3_ORANGE_NOISE), green: P3_GREEN },
  { dim: DIMS[1], filter: FILTERS[0], yTicks: Y_TICKS_P4, blue: P4_BLUE, orange: P4_ORANGE,
    green: withNoise(P4_GREEN_PTS, P4_GREEN_NOISE_X0, P4_GREEN_NOISE) },
  { dim: DIMS[1], filter: FILTERS[1], yTicks: Y_TICKS_P5, blue: P5_BLUE,
    orange: withNoise(P5_ORANGE_PTS, P5_ORANGE_NOISE_X0, P5_ORANGE_NOISE), green: P5_GREEN },
  { dim: DIMS[1], filter: FILTERS[2], yTicks: Y_TICKS_P6, blue: P6_BLUE,
    orange: withNoise(P6_ORANGE_PTS, P6_ORANGE_NOISE_X0, P6_ORANGE_NOISE), green: P6_GREEN },
];

// layout (pixels)
const COL_LEFT = [30, 602, 1197.5];
const ROW_TOP = [95.5, 426];
const AX_W = 527.5;
const AX_H = 208.5;
const TITLE_LINE = 14.8;
const TICK_LEN = 3.5;

const LEG_W = 543;
const LEG_TOP = 655;
const LEG_H = 62;
const LEG_ROW = 15.35;

function titleLines(p: PanelData): string[] {
  return [
    `window=${WINDOW}`,
    `horizon=${HORIZON}`,
    `dim=${p.dim}`,
    `transfer=${TRANSFER}`,
    `training_filter=${p.filter}`,
    `n_epochs=${N_EPOCHS}`,
  ];
}

// matplotlib-style 5% margins on the data extent
function padded(ext: [number, number]): [number, number] {
  const m = (ext[1] - ext[0]) * 0.05;
  return [ext[0] - m, ext[1] + m];
}

const ALL_X = [TEMPERATURE, ...PANELS.flatMap((p) => [p.blue, p.orange, p.green])].flat();
const X_DOMAIN = padded(d3.extent(ALL_X, (d) => d[0]) as [number, number]);

function Panel({ p, idx }: { p: PanelData; idx: number }) {
  const left = COL_LEFT[idx % 3];
  const top = ROW_TOP[Math.floor(idx / 3)];
  const bottom = top + AX_H;
  const right = left + AX_W;

  const x = d3.scaleLinear().domain(X_DOMAIN).range([left, right]);
  const yExt = d3.extent([TEMPERATURE, p.blue, p.orange, p.green].flat(), (d) => d[1]) as [number, number];
  const y = d3.scaleLinear().domain(padded(yExt)).range([bottom, top]);
  const line = d3
    .line<Pt>()
    .x((d) => x(d[0]))
    .y((d) => y(d[1]));

  const series: [Pt[], string][] = [
    [TEMPERATURE, COLOR_TEMP],
    [p.blue, COLOR_BLUE],
    [p.orange, COLOR_ORANGE],
    [p.green, COLOR_GREEN],
  ];
  const clipId = `clip-${idx}`;
  const lines = titleLines(p);

  return (
    <g>
      <defs>
        <clipPath id={clipId}>
          <rect x={left} y={top} width={AX_W} height={AX_H} />
        </clipPath>
      </defs>
      <g clipPath={`url(#${clipId})`}>
        {series.map(([data, color], i) => (
          <path
            key={i}
            d={line(data) ?? ""}
            fill="none"
            stroke={color}
            strokeWidth={1.5}
            strokeLinejoin="round"
          />
        ))}
      </g>
      <rect x={left} y={top} width={AX_W} height={AX_H} fill="none" stroke="#000" strokeWidth={0.8} />

      {X_TICKS.map((t) => (
        <g key={`x${t}`}>
          <line x1={x(t)} x2={x(t)} y1={bottom} y2={bottom + TICK_LEN} stroke="#000" strokeWidth={0.8} />
          <text x={x(t)} y={bottom + 14.6} fontSize={10} textAnchor="middle" fill="#000">
            {t}
          </text>
        </g>
      ))}
      {p.yTicks.map((t) => (
        <g key={`y${t}`}>
          <line x1={left - TICK_LEN} x2={left} y1={y(t)} y2={y(t)} stroke="#000" strokeWidth={0.8} />
          <text x={left - 7} y={y(t) + 3.6} fontSize={10} textAnchor="end" fill="#000">
            {t}
          </text>
        </g>
      ))}

      {lines.map((s, i) => (
        <text
          key={i}
          x={left}
          y={top - 8.8 - (lines.length - 1 - i) * TITLE_LINE}
          fontSize={12}
          fill="#000"
        >
          {s}
        </text>
      ))}
    </g>
  );
}

function Legend() {
  const colors = [COLOR_TEMP, COLOR_BLUE, COLOR_ORANGE, COLOR_GREEN];
  const left = COL_LEFT[1] + AX_W / 2 - LEG_W / 2;
  return (
    <g>
      <rect
        x={left}
        y={LEG_TOP}
        width={LEG_W}
        height={LEG_H}
        rx={2.5}
        fill="#fff"
        fillOpacity={0.8}
        stroke="#cccccc"
        strokeWidth={1}
      />
      {LEGEND_LABELS.map((label, i) => {
        const cy = LEG_TOP + 7.2 + i * LEG_ROW;
        return (
          <g key={i}>
            <line x1={left + 4} x2={left + 24} y1={cy} y2={cy} stroke={colors[i]} strokeWidth={1.5} />
            <text x={left + 32} y={cy + 3.6} fontSize={10} fill="#000">
              {label}
            </text>
          </g>
        );
      })}
    </g>
  );
}

export default function App() {
  return (
    <svg
      width={W}
      height={H}
      viewBox={`0 0 ${W} ${H}`}
      style={{ position: "absolute", left: 0, top: 0, background: "#fff" }}
      fontFamily={FONT}
    >
      <rect width={W} height={H} fill="#fff" />
      {PANELS.map((p, i) => (
        <Panel key={i} p={p} idx={i} />
      ))}
      <Legend />
    </svg>
  );
}
